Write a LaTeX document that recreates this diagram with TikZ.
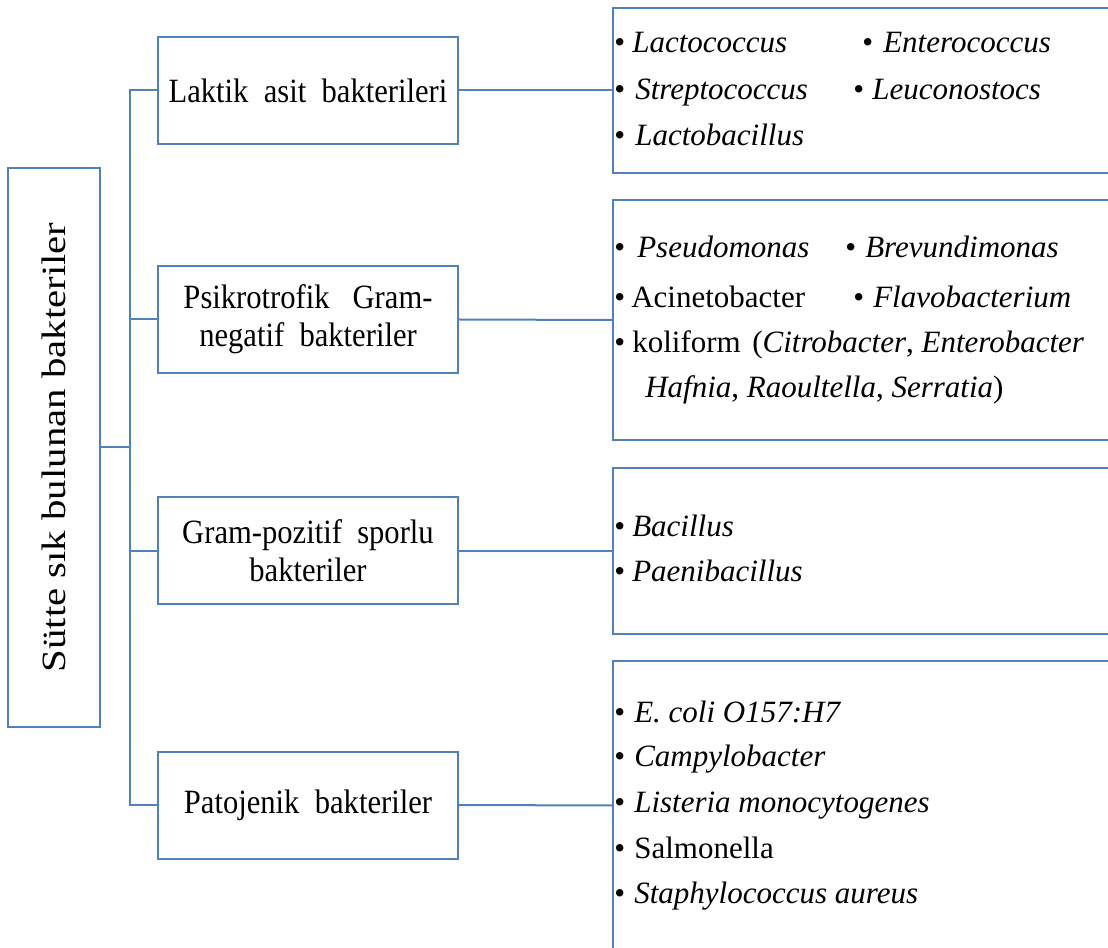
\documentclass[tikz,border=0pt]{standalone}
\usepackage{fontspec}
\setmainfont{Liberation Serif}
\newfontfamily\midfont[FakeStretch=0.9]{Liberation Serif}
\newfontfamily\rootfont[FakeStretch=1.2]{Liberation Serif}
\definecolor{lineblue}{RGB}{79,129,189}
\tikzset{
  boxline/.style={draw=lineblue, line width=1.5pt},
  rootbox/.style={boxline, rotate=90, minimum width=419.25pt, minimum height=69pt, inner sep=0pt,
    font=\rootfont\fontsize{25.5pt}{30pt}\selectfont},
  midbox/.style={boxline, minimum width=225pt, minimum height=80.25pt, inner sep=0pt, align=center,
    font=\midfont\fontsize{25.5pt}{28.5pt}\selectfont},
  listbox/.style={boxline, minimum width=377.25pt, inner sep=0pt},
  item/.style={anchor=base west, inner sep=0pt, font=\fontsize{23.25pt}{28pt}\selectfont},
  conn/.style={draw=lineblue, line width=1.5pt}
}
\begin{document}
\begin{tikzpicture}[x=0.75pt,y=-0.75pt]
\useasboundingbox (0,0) rectangle (1108,948);
\clip (0,0) rectangle (1108,948);
% root
\node[rootbox] (root) at (54,447.5) {Sütte sık bulunan bakteriler};
% middle boxes
\node[midbox] (m1) at (308,90.5) {Laktik\ \ asit\ \ bakterileri};
\node[midbox] (m2) at (308,319.5) {Psikrotrofik\ \ \ Gram-\\negatif\ \ bakteriler};
\node[midbox] (m3) at (308,551) {Gram-pozitif\ \ sporlu\\bakteriler};
\node[midbox] (m4) at (308,805) {Patojenik\ \ bakteriler};
% right boxes
\node[listbox, minimum height=123.75pt] (r1) at (864.5,90.5) {};
\node[listbox, minimum height=180pt] (r2) at (864.5,320) {};
\node[listbox, minimum height=124.5pt] (r3) at (864.5,551) {};
\node[listbox, minimum height=216.75pt] (r4) at (864.5,805.5) {};
% connectors
\coordinate (trunk) at (130,447.5);
\draw[conn] (root.south) -- (trunk);
\draw[conn] (m1.west) -- (m1.west -| trunk) -- (m4.west -| trunk) -- (m4.west);
\draw[conn] (m2.west) -- (m2.west -| trunk);
\draw[conn] (m3.west) -- (m3.west -| trunk);
\draw[conn] (m1.east) -- (r1.west);
\draw[conn] (m2.east) -- (r2.west);
\draw[conn] (m3.east) -- (r3.west);
\draw[conn] (m4.east) -- (r4.west);
% list 1
\node[item] (b1a) at (614,53) {\textbullet};
\node[item] (t1a) at (632,53) {\textit{Lactococcus}};
\node[item] (b1b) at (862,53) {\textbullet};
\node[item] (t1b) at (883,53) {\textit{Enterococcus}};
\node[item] (b1c) at (614,100) {\textbullet};
\node[item] (t1c) at (635,100) {\textit{Streptococcus}};
\node[item] (b1d) at (853,100) {\textbullet};
\node[item] (t1d) at (872,100) {\textit{Leuconostocs}};
\node[item] (b1e) at (614,146) {\textbullet};
\node[item] (t1e) at (635,146) {\textit{Lactobacillus}};
% list 2
\node[item] (b2a) at (614,258) {\textbullet};
\node[item] (t2a) at (637,258) {\textit{Pseudomonas}};
\node[item] (b2b) at (845,258) {\textbullet};
\node[item] (t2b) at (865,258) {\textit{Brevundimonas}};
\node[item] (b2c) at (614,308) {\textbullet};
\node[item] (t2c) at (631,308) {Acinetobacter};
\node[item] (b2d) at (853,308) {\textbullet};
\node[item] (t2d) at (873,308) {\textit{Flavobacterium}};
\node[item] (b2e) at (614,353) {\textbullet};
\node[item] (t2e) at (632,353) {koliform};
\node[item] (t2f) at (752,353) {(\textit{Citrobacter}, \textit{Enterobacter}};
\node[item] (t2g) at (645,398) {\textit{Hafnia}, \textit{Raoultella}, \textit{Serratia})};
% list 3
\node[item] (b3a) at (614,537) {\textbullet};
\node[item] (t3a) at (632,537) {\textit{Bacillus}};
\node[item] (b3b) at (614,582) {\textbullet};
\node[item] (t3b) at (632,582) {\textit{Paenibacillus}};
% list 4
\node[item] (b4a) at (614,722) {\textbullet};
\node[item] (t4a) at (634,722) {\textit{E. coli O157:H7}};
\node[item] (b4b) at (614,767) {\textbullet};
\node[item] (t4b) at (634,767) {\textit{Campylobacter}};
\node[item] (b4c) at (614,812) {\textbullet};
\node[item] (t4c) at (634,812) {\textit{Listeria monocytogenes}};
\node[item] (b4d) at (614,858) {\textbullet};
\node[item] (t4d) at (634,858) {Salmonella};
\node[item] (b4e) at (614,903) {\textbullet};
\node[item] (t4e) at (634,903) {\textit{Staphylococcus aureus}};
\end{tikzpicture}
\end{document}
